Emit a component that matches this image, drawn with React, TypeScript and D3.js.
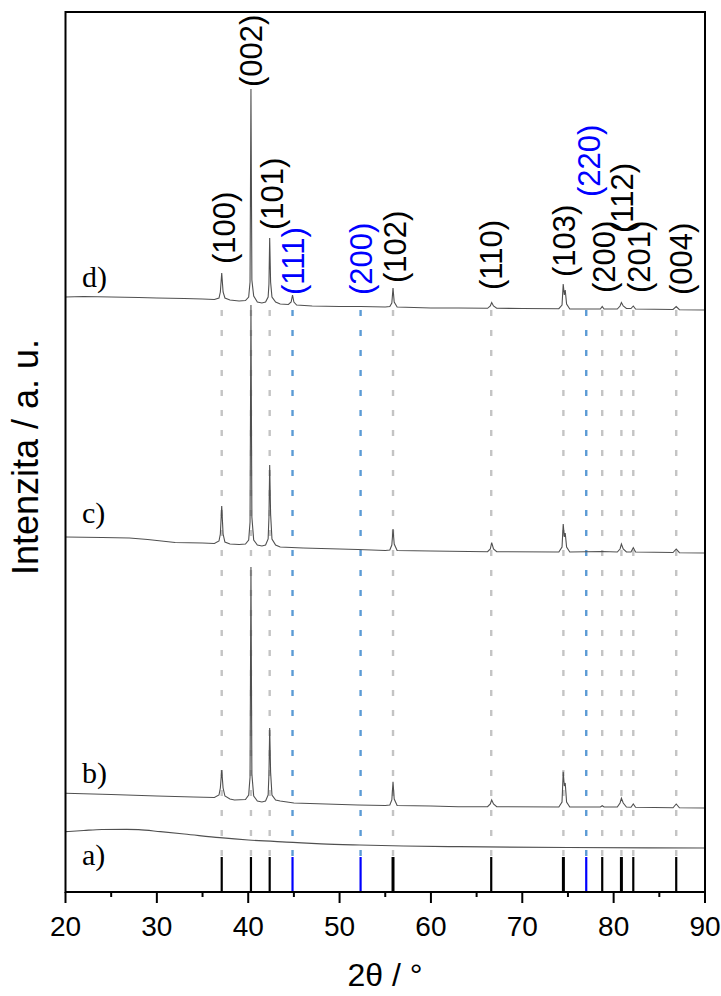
import React from "react";
import * as d3 from "d3";

// ---- data (2θ in degrees, intensity in a.u.) ----
const X_TICKS = [20, 30, 40, 50, 60, 70, 80, 90];
const X_MINOR = [25, 35, 45, 55, 65, 75, 85];

const curveA: [number, number][] = [
  [20, 60.3], [22, 61.5], [24, 62.5], [26.7, 62.7], [28, 62.3], [30.4, 60.3], [33, 58], [36.9, 54.3],
  [40, 52], [44.9, 49.7], [48, 48.2], [52.2, 47], [57, 46], [63.1, 45.3], [75, 44.5], [90, 44],
];

const curveB: [number, number][] = [
  [20, 98.7], [25, 97.5], [30, 96], [34, 95], [36.3, 94.5], [36.8, 97], [36.95, 104], [37.1, 122], [37.25, 104],
  [37.45, 96], [38, 93], [38.5, 92], [39.7, 92.5], [40.05, 97], [40.2, 115], [40.3, 325], [40.4, 118], [40.6, 96],
  [41.0, 91], [41.5, 90], [41.9, 91], [42.18, 97], [42.27, 118], [42.35, 164], [42.45, 120], [42.6, 97], [43, 92],
  [43.5, 91], [45, 89], [52, 87], [55, 86.5], [55.5, 87], [55.72, 92], [55.85, 110.3], [55.98, 93], [56.3, 86.5],
  [60, 86], [63, 85.3], [66.2, 85.3], [66.5, 88], [66.65, 92], [66.85, 88], [67.2, 85.3], [74, 85], [74.35, 90],
  [74.48, 120.3], [74.6, 106], [74.7, 109], [74.85, 90], [75.2, 85], [78.55, 85], [78.75, 86.3], [78.95, 85],
  [80.4, 85], [80.7, 89], [80.85, 93.7], [81.05, 89], [81.4, 85], [81.9, 84.8], [82.15, 88], [82.4, 84.7],
  [86.5, 84.2], [86.85, 88], [87.2, 84.2], [90, 84],
];

const curveC: [number, number][] = [
  [20, 355], [24, 354.5], [27, 354], [29, 352.5], [32, 349.5], [35, 349], [36.3, 348.5], [36.8, 351], [36.95, 358],
  [37.1, 386], [37.25, 358], [37.45, 350], [38, 348], [39, 347.5], [39.7, 348], [40.05, 352], [40.2, 370],
  [40.3, 587], [40.4, 375], [40.6, 352], [41.0, 347], [41.5, 346], [41.9, 347], [42.18, 353], [42.27, 375],
  [42.35, 427], [42.45, 378], [42.6, 353], [43, 347], [43.5, 345], [46, 344], [52, 342.5], [55, 341.5],
  [55.5, 342], [55.72, 347], [55.85, 363], [55.98, 348], [56.3, 341.5], [60, 341], [66.2, 340.3], [66.5, 343],
  [66.65, 349.3], [66.85, 343], [67.2, 340.3], [74, 340], [74.35, 345], [74.48, 368], [74.6, 355], [74.7, 359],
  [74.85, 345], [75.2, 340], [78.75, 340.5], [80.4, 340], [80.7, 343], [80.85, 348], [81.05, 343], [81.4, 340],
  [81.9, 340], [82.15, 344.3], [82.4, 340], [86.5, 339.5], [86.85, 343], [87.2, 339.3], [90, 339],
];

const curveD: [number, number][] = [
  [20, 595], [22, 595.5], [25, 595], [28, 594.5], [30, 594], [33, 593.5], [35, 593], [36.3, 592.5], [36.8, 594],
  [36.95, 600], [37.1, 619], [37.25, 600], [37.45, 594], [38, 592], [39, 591], [39.7, 591.5], [40.05, 595],
  [40.2, 610], [40.3, 803], [40.4, 612], [40.6, 596], [41.0, 590], [41.5, 589], [41.9, 590], [42.18, 595],
  [42.27, 608], [42.35, 654], [42.45, 610], [42.6, 595], [43, 590], [43.5, 588], [44.4, 587.5], [44.7, 590],
  [44.85, 597], [45.0, 590], [45.3, 587], [47, 586], [50, 585.5], [52.3, 585.5], [55, 585], [55.5, 585.5],
  [55.72, 589], [55.85, 604], [55.98, 590], [56.3, 585], [60, 584], [63, 584], [66.2, 583.7], [66.5, 586],
  [66.65, 589.5], [66.85, 586], [67.2, 583.7], [70, 583.5], [74, 583.3], [74.35, 587], [74.48, 608], [74.6, 597],
  [74.7, 602], [74.85, 588], [75.2, 583], [78.55, 583], [78.75, 585.5], [78.95, 583], [80.4, 583], [80.7, 586],
  [80.85, 589.5], [81.05, 586], [81.4, 583.5], [81.9, 583.5], [82.15, 586], [82.4, 583], [86.5, 582.5],
  [86.85, 585.5], [87.2, 582.3], [90, 582],
];

// reference reflections
const HEX_POS = [37.1, 40.3, 42.35, 55.85, 66.6, 74.5, 78.75, 80.85, 82.15, 86.85];
const HEX_STICK = [35, 35, 35, 35, 35, 35, 35, 35, 35, 35];
const HEX_WIDE = [false, false, false, true, false, true, false, true, false, false];
const CUB_POS = [44.85, 52.3, 77.0];
const CUB_STICK = [35, 35, 35];

// peak labels: text, 2θ, intensity of text start, phase
const LABEL_TEXT = ["(100)", "(002)", "(101)", "(111)", "(200)", "(102)", "(110)", "(103)", "(220)", "(200)", "(112)", "(201)", "(004)"];
const LABEL_POS = [37.35, 40.3, 42.55, 44.85, 52.35, 56.0, 66.6, 74.6, 77.25, 78.9, 80.85, 82.75, 87.4];
const LABEL_I = [628, 805, 662, 597, 597, 609, 602, 615, 695, 599, 659, 599, 597];
const LABEL_PHASE = ["h", "h", "h", "c", "c", "h", "h", "h", "c", "h", "h", "h", "h"];

const SAMPLE_TEXT = ["a)", "b)", "c)", "d)"];
const SAMPLE_I = [27, 109, 369, 605];

export default function App() {
  const W = 721, H = 996;
  const x = d3.scaleLinear().domain([20, 90]).range([65.5, 705]);
  const y = d3.scaleLinear().domain([0, 880]).range([892, 12]);
  const lineL = d3.line<[number, number]>().x((d) => x(d[0])).y((d) => y(d[1]));
  const lineS = d3.line<[number, number]>().x((d) => x(d[0])).y((d) => y(d[1])).curve(d3.curveMonotoneX);

  const dotTop = y(582);
  const dotBottom = y(36);
  const sans = "'Liberation Sans', Arial, sans-serif";
  const serif = "'Liberation Serif', 'Times New Roman', serif";

  return (
    <svg width={W} height={H} style={{ position: "absolute", left: 0, top: 0, display: "block", background: "#fff" }}>
      {/* dotted guide lines */}
      {HEX_POS.map((p, i) => (
        <line key={"hd" + i} x1={x(p)} x2={x(p)} y1={dotTop} y2={dotBottom} stroke="#c4c4c4" strokeWidth={2.4} strokeDasharray="6,14" />
      ))}
      {CUB_POS.map((p, i) => (
        <line key={"cd" + i} x1={x(p)} x2={x(p)} y1={dotTop} y2={dotBottom} stroke="#5b9bd5" strokeWidth={2.4} strokeDasharray="6,14" />
      ))}

      {/* patterns */}
      <path d={lineS(curveA) || ""} fill="none" stroke="#505050" strokeWidth={1.2} />
      <path d={lineL(curveB) || ""} fill="none" stroke="#505050" strokeWidth={1.1} />
      <path d={lineL(curveC) || ""} fill="none" stroke="#505050" strokeWidth={1.1} />
      <path d={lineL(curveD) || ""} fill="none" stroke="#505050" strokeWidth={1.1} />

      {/* reference sticks */}
      {HEX_POS.map((p, i) => (
        <line key={"hs" + i} x1={x(p)} x2={x(p)} y1={y(0)} y2={y(HEX_STICK[i])} stroke="#000" strokeWidth={HEX_WIDE[i] ? 3 : 2.2} />
      ))}
      {CUB_POS.map((p, i) => (
        <line key={"cs" + i} x1={x(p)} x2={x(p)} y1={y(0)} y2={y(CUB_STICK[i])} stroke="#0000ff" strokeWidth={2.2} />
      ))}

      {/* frame */}
      <rect x={65.5} y={12} width={705 - 65.5} height={892 - 12} fill="none" stroke="#000" strokeWidth={2} />

      {/* x axis ticks */}
      {X_TICKS.map((t) => (
        <g key={"t" + t}>
          <line x1={x(t)} x2={x(t)} y1={892} y2={903} stroke="#000" strokeWidth={2} />
          <text x={x(t)} y={936} textAnchor="middle" fontFamily={sans} fontSize={28} fill="#000">{t}</text>
        </g>
      ))}
      {X_MINOR.map((t) => (
        <line key={"m" + t} x1={x(t)} x2={x(t)} y1={892} y2={897} stroke="#000" strokeWidth={2} />
      ))}

      {/* axis titles */}
      <text x={385} y={986} textAnchor="middle" fontFamily={sans} fontSize={32} fill="#000">2θ / °</text>
      <text transform={`translate(38,457) rotate(-90)`} textAnchor="middle" fontFamily={sans} fontSize={36} fill="#000">Intenzita / a. u.</text>

      {/* sample labels */}
      {SAMPLE_TEXT.map((s, i) => (
        <text key={s} x={82} y={y(SAMPLE_I[i])} fontFamily={serif} fontSize={30} fill="#000">{s}</text>
      ))}

      {/* peak labels */}
      {LABEL_TEXT.map((s, i) => (
        <text key={"l" + i} transform={`translate(${x(LABEL_POS[i])},${y(LABEL_I[i])}) rotate(-90)`} dy="0.36em"
          fontFamily={sans} fontSize={31} fill={LABEL_PHASE[i] === "c" ? "#0000ff" : "#000"}>{s}</text>
      ))}
    </svg>
  );
}
